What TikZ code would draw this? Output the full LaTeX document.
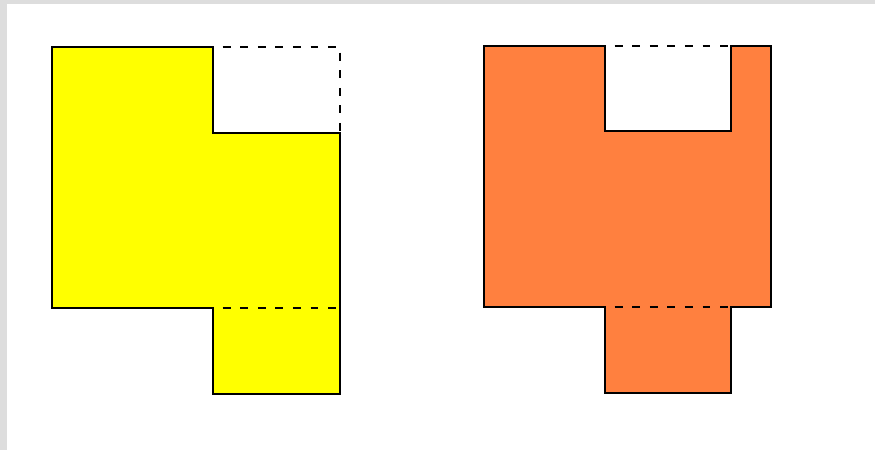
\documentclass[tikz,border=0pt]{standalone}
\usepackage{tikz}
\definecolor{shapeyellow}{HTML}{FFFF00}
\definecolor{shapeorange}{HTML}{FF803F}
\definecolor{framegray}{HTML}{DDDDDD}

\begin{document}
\begin{tikzpicture}[
  x=0.02cm, y=-0.02cm,
  solidedge/.style={draw=black, line width=1.1pt, line join=miter},
  dashedge/.style={draw=black, line width=1.1pt, dash pattern=on 4.5pt off 5.5pt, dash phase=4.5pt},
]
  % frame
  \fill[framegray] (0,0) rectangle (875,450);
  \fill[white] (7,4) rectangle (875,450);
  \useasboundingbox (0,0) rectangle (875,450);

  % Left: yellow shape
  \coordinate (yA) at (52,47);
  \coordinate (yB) at (213,47);
  \coordinate (yC) at (213,133);
  \coordinate (yD) at (340,133);
  \coordinate (yE) at (340,394);
  \coordinate (yF) at (213,394);
  \coordinate (yG) at (213,308);
  \coordinate (yH) at (52,308);
  \coordinate (yI) at (340,47);
  \coordinate (yJ) at (340,308);
  \fill[shapeyellow] (yA) -- (yB) -- (yC) -- (yD) -- (yE) -- (yF) -- (yG) -- (yH) -- cycle;
  \draw[solidedge] (yA) -- (yB) -- (yC) -- (yD) -- (yE) -- (yF) -- (yG) -- (yH) -- cycle;
  \draw[dashedge] (yB) -- (yI) -- (yD);
  \draw[dashedge] (yG) -- (yJ);

  % Right: orange shape
  \coordinate (oA) at (484,46);
  \coordinate (oB) at (605,46);
  \coordinate (oC) at (605,131);
  \coordinate (oD) at (731,131);
  \coordinate (oE) at (731,46);
  \coordinate (oF) at (771,46);
  \coordinate (oG) at (771,307);
  \coordinate (oH) at (731,307);
  \coordinate (oI) at (731,393);
  \coordinate (oJ) at (605,393);
  \coordinate (oK) at (605,307);
  \coordinate (oL) at (484,307);
  \fill[shapeorange] (oA) -- (oB) -- (oC) -- (oD) -- (oE) -- (oF) -- (oG) -- (oH) -- (oI) -- (oJ) -- (oK) -- (oL) -- cycle;
  \draw[solidedge] (oA) -- (oB) -- (oC) -- (oD) -- (oE) -- (oF) -- (oG) -- (oH) -- (oI) -- (oJ) -- (oK) -- (oL) -- cycle;
  \draw[dashedge] (oB) -- (oE);
  \draw[dashedge] (oK) -- (oH);
\end{tikzpicture}
\end{document}
